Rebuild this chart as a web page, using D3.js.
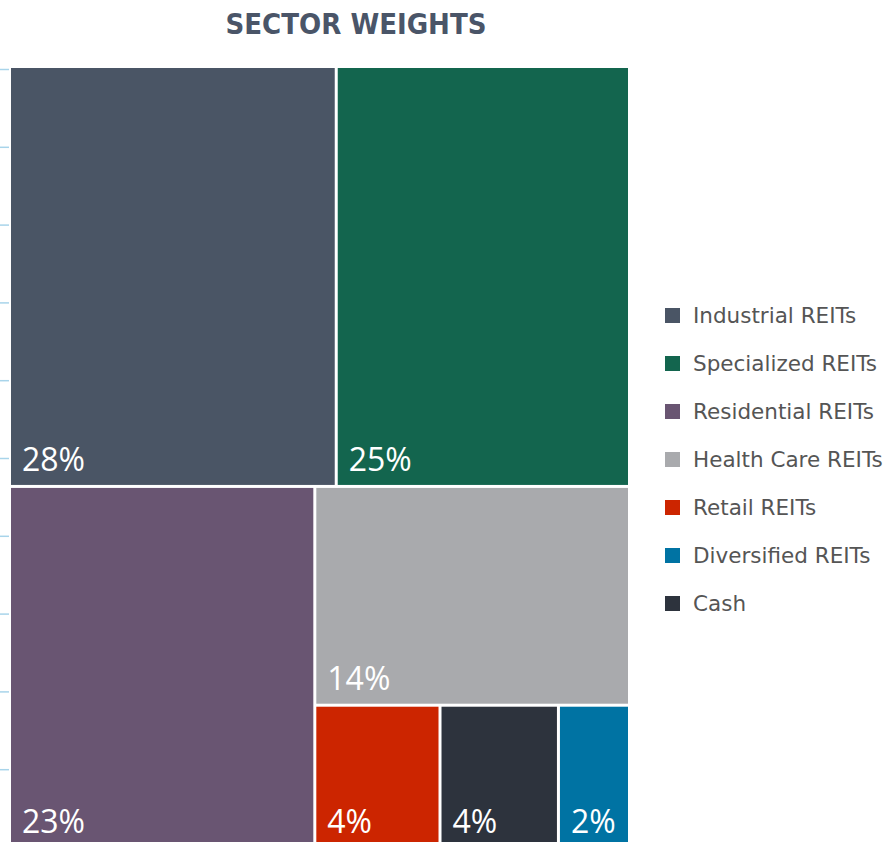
<!DOCTYPE html>
<html>
<head>
<meta charset="utf-8">
<script src="https://cdn.jsdelivr.net/npm/d3@7"></script>
<style>
  body { margin: 0; background: #fff; }
  svg { display: block; }
</style>
</head>
<body>
<div id="chart"></div>
<script>
// data
const sectors = ["Industrial REITs", "Specialized REITs", "Residential REITs", "Health Care REITs", "Retail REITs", "Diversified REITs", "Cash"];
const weights = [28.3, 25.4, 22.8, 14.2, 3.7, 2.1, 3.5];
const colors = ["#4a5565", "#13654e", "#695572", "#a9aaad", "#cc2500", "#0073a3", "#2d333d"];
const axisTicks = [0, 10, 20, 30, 40, 50, 60, 70, 80, 90, 100];

const width = 891, height = 842;
const plot = { x: 11, y: 68, w: 617, h: 779 };

const svg = d3.select("#chart")
  .append("svg")
  .attr("width", width)
  .attr("height", height);

// title
svg.append("text")
  .attr("x", 356)
  .attr("y", 34)
  .attr("text-anchor", "middle")
  .attr("font-family", "DejaVu Sans Condensed, DejaVu Sans, sans-serif")
  .attr("font-size", "29px")
  .attr("font-weight", "bold")
  .attr("fill", "#4a5568")
  .text("SECTOR WEIGHTS");

// left axis ticks (no labels)
const yScale = d3.scaleLinear()
  .domain([0, 100])
  .range([plot.y + plot.h, plot.y + 1]);

const yAxis = d3.axisLeft(yScale)
  .tickValues(axisTicks)
  .tickSize(9)
  .tickFormat("");

const axisG = svg.append("g")
  .attr("transform", `translate(${plot.x - 2}, 0)`)
  .call(yAxis);
axisG.select(".domain").remove();
axisG.selectAll(".tick line").attr("stroke", "#a8d4ea").attr("stroke-width", 1.5);

// treemap
const root = d3.hierarchy({
    children: sectors.map((name, i) => ({ name, value: weights[i], color: colors[i] }))
  })
  .sum(d => d.value || 0)
  .sort((a, b) => b.value - a.value);

d3.treemap()
  .tile(d3.treemapSquarify)
  .size([plot.w, plot.h])
  .paddingInner(3)(root);

const cells = svg.append("g")
  .attr("transform", `translate(${plot.x}, ${plot.y})`)
  .selectAll("g")
  .data(root.leaves())
  .join("g")
  .attr("transform", d => `translate(${d.x0}, ${d.y0})`);

cells.append("rect")
  .attr("width", d => d.x1 - d.x0)
  .attr("height", d => d.y1 - d.y0)
  .attr("fill", d => d.data.color);

cells.append("text")
  .attr("x", 11)
  .attr("y", d => d.y1 - d.y0 - 14)
  .attr("font-family", "Open Sans, sans-serif")
  .attr("font-size", "32px")
  .attr("fill", "#fff")
  .text(d => Math.round(d.data.value) + "%");

// legend
const legend = svg.append("g")
  .attr("transform", "translate(665, 0)")
  .selectAll("g")
  .data(sectors)
  .join("g")
  .attr("transform", (d, i) => `translate(0, ${323 + i * 48})`);

legend.append("rect")
  .attr("x", 0)
  .attr("y", -15)
  .attr("width", 15)
  .attr("height", 15)
  .attr("fill", (d, i) => colors[i]);

legend.append("text")
  .attr("x", 28)
  .attr("y", 0)
  .attr("font-family", "DejaVu Sans, sans-serif")
  .attr("font-size", "21.5px")
  .attr("fill", "#555")
  .text(d => d);
</script>
</body>
</html>
